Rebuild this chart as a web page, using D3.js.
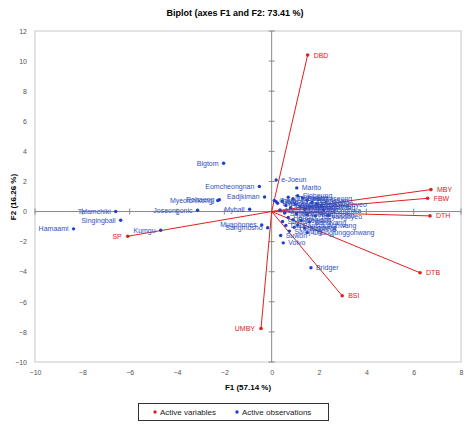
<!DOCTYPE html>
<html><head><meta charset="utf-8">
<script src="https://cdn.jsdelivr.net/npm/d3@7"></script>
<style>body{margin:0;background:#fff}svg{display:block}text{font-family:"Liberation Sans",Arial,sans-serif}</style>
</head><body><svg id="c" width="471" height="429"></svg>
<script>
const xTicks = [-10,-8,-6,-4,-2,0,2,4,6,8];
const yTicks = [-10,-8,-6,-4,-2,0,2,4,6,8,10,12];
const varNames = ["DBD","MBY","FBW","DTH","DTB","BSI","UMBY","SP"];
const varF1 = [1.52,6.73,6.59,6.69,6.27,2.98,-0.45,-6.08];
const varF2 = [10.4,1.46,0.88,-0.29,-4.07,-5.6,-7.77,-1.64];
const varSide = ["r","r","r","r","r","r","l","l"];
const obsNames = ["Bigtom","Eomcheongnan","Eadjkiman","Myeolchikong","Rohaeng","Joseongonic","Myball","Tafamchiki","Singingball","Hamaami","Kumgu","Muaphones","Sangmosho","e-Joeun","Marito","Bridger","Volvo",
"Hwanggeum","Hoseo","Jinjuhwang","Daewang","Sinheung","Baekmaseong","Cheongsan","Dongbang","Samgangbyeo","Saeilmi","Hanmaeum","Geumgang","Anbaekhwa","Ilpumbyeo","Jungwon","Seonghwang","Yeonghwa","Nampyeong","Sobaek","Keumkang","Gobun","Taeyangbyeo","Jopum","Hanbit","Poongjang","Seodun","Sangvang","Pansujunghwang","Hwangpung","Bokdeok","Chungjunggohwang","Samjung","Saemi","Dajo","Suwon","Gaya","Odae"];
const obsF1 = [-2.03,-0.52,-0.30,-2.28,-2.21,-3.13,-0.93,-6.59,-6.38,-8.37,-4.69,-0.42,-0.17,0.19,1.06,1.66,0.49,
0.25,0.45,0.7,0.9,1.1,1.3,1.5,1.7,1.9,2.1,0.6,0.8,1.0,1.2,1.4,1.6,2.2,0.35,0.55,1.05,1.5,1.85,2.4,0.7,0.9,1.25,1.6,1.1,0.95,1.4,1.5,0.75,0.46,0.6,0.38,0.11,0.19];
const obsF2 = [3.21,1.66,0.97,0.73,0.78,0.09,0.15,0.0,-0.58,-1.15,-1.24,-0.89,-1.08,2.1,1.57,-3.74,-2.08,
0.55,0.7,0.95,0.85,1.05,0.9,0.75,0.6,0.5,0.35,0.4,0.25,0.5,0.3,0.15,0.3,0.1,0.1,-0.1,-0.15,-0.2,-0.3,-0.25,-0.4,-0.55,-0.6,-0.7,-0.9,-1.05,-1.1,-1.4,-1.3,-0.66,-0.93,-1.59,0.73,0.66];
const obsSide = ["l","l","l","l","l","l","l","l","l","l","l","l","l","r","r","r","r"];

const svg = d3.select("#c");
const x = d3.scaleLinear().domain([-10,8]).range([35,461]);
const y = d3.scaleLinear().domain([-10,12]).range([362,31]);
const red = "#e02020", blue = "#1f3fc4", lblue = "#3050c0";

svg.append("text").attr("x",235).attr("y",16).attr("text-anchor","middle")
  .attr("font-size",9).attr("font-weight","bold").text("Biplot (axes F1 and F2: 73.41 %)");

svg.append("rect").attr("x",35).attr("y",31).attr("width",426).attr("height",331)
  .attr("fill","none").attr("stroke","#c8c8c8").attr("stroke-width",1);

// zero axes
svg.append("line").attr("x1",x(0)).attr("x2",x(0)).attr("y1",31).attr("y2",362).attr("stroke","#888");
svg.append("line").attr("x1",35).attr("x2",461).attr("y1",y(0)).attr("y2",y(0)).attr("stroke","#888");
yTicks.forEach(t=>{ svg.append("line").attr("x1",x(0)-3).attr("x2",x(0)+3).attr("y1",y(t)).attr("y2",y(t)).attr("stroke","#888"); });
xTicks.forEach(t=>{ svg.append("line").attr("x1",x(t)).attr("x2",x(t)).attr("y1",y(0)-3).attr("y2",y(0)+3).attr("stroke","#888"); });

// tick labels
const yAx = svg.append("g").attr("transform","translate(35,0)")
  .call(d3.axisLeft(y).tickValues(yTicks).tickSize(0).tickPadding(8));
const xAx = svg.append("g").attr("transform","translate(0,362)")
  .call(d3.axisBottom(x).tickValues(xTicks).tickSize(0).tickPadding(8));
[yAx,xAx].forEach(g=>{ g.select(".domain").remove(); g.selectAll("text").attr("font-size",7).attr("fill","#555").attr("font-family","Liberation Sans, Arial, sans-serif"); });

svg.append("text").attr("x",248).attr("y",390).attr("text-anchor","middle")
  .attr("font-size",8).attr("font-weight","bold").text("F1 (57.14 %)");
svg.append("text").attr("transform","translate(16,197) rotate(-90)").attr("text-anchor","middle")
  .attr("font-size",8).attr("font-weight","bold").text("F2 (16.26 %)");

const plot = svg.append("g");
// variable vectors
const vars = varNames.map((n,i)=>({n,f1:varF1[i],f2:varF2[i],s:varSide[i]}));
plot.selectAll(".vl").data(vars).enter().append("line")
  .attr("x1",x(0)).attr("y1",y(0)).attr("x2",d=>x(d.f1)).attr("y2",d=>y(d.f2))
  .attr("stroke",red).attr("stroke-width",1);

// observations
const obs = obsNames.map((n,i)=>({n,f1:obsF1[i],f2:obsF2[i],s:obsSide[i]||"r"}));
plot.selectAll(".oc").data(obs).enter().append("circle")
  .attr("cx",d=>x(d.f1)).attr("cy",d=>y(d.f2)).attr("r",1.7).attr("fill",blue);
plot.selectAll(".ot").data(obs).enter().append("text")
  .attr("x",d=>x(d.f1)+(d.s==="l"?-5:5)).attr("y",d=>y(d.f2)+2.5)
  .attr("text-anchor",d=>d.s==="l"?"end":"start")
  .attr("font-size",7).attr("fill",lblue).text(d=>d.n);

plot.selectAll(".vc").data(vars).enter().append("circle")
  .attr("cx",d=>x(d.f1)).attr("cy",d=>y(d.f2)).attr("r",1.8).attr("fill",red);
plot.selectAll(".vt").data(vars).enter().append("text")
  .attr("x",d=>x(d.f1)+(d.s==="l"?-6:6)).attr("y",d=>y(d.f2)+2.5)
  .attr("text-anchor",d=>d.s==="l"?"end":"start")
  .attr("font-size",7).attr("fill",red).text(d=>d.n);

// legend
const lg = svg.append("g");
lg.append("rect").attr("x",138.5).attr("y",403.5).attr("width",190).attr("height",17)
  .attr("fill","#fff").attr("stroke","#333").attr("stroke-width",1);
lg.append("circle").attr("cx",155).attr("cy",412).attr("r",1.7).attr("fill",red);
lg.append("text").attr("x",160).attr("y",415).attr("font-size",8).attr("fill","#222").text("Active variables");
lg.append("circle").attr("cx",237).attr("cy",412).attr("r",1.7).attr("fill",blue);
lg.append("text").attr("x",242).attr("y",415).attr("font-size",8).attr("fill","#222").text("Active observations");
</script></body></html>
